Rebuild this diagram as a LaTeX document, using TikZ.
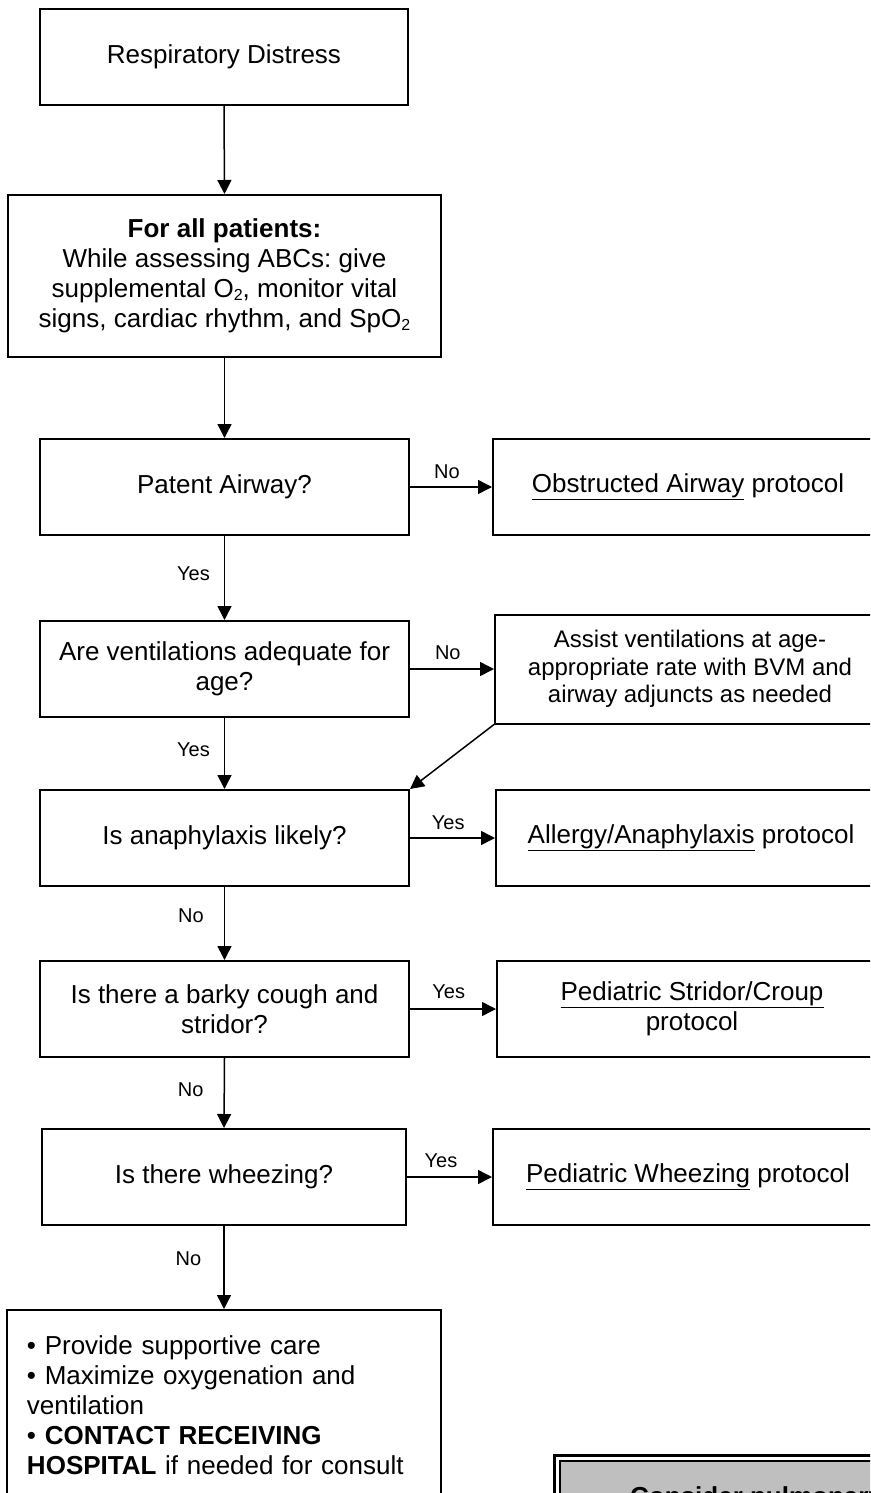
\documentclass[tikz,border=0pt]{standalone}
\usepackage{fontspec}
\setmainfont{Liberation Sans}
\usetikzlibrary{arrows.meta}
\newcommand\lowsub[1]{\raisebox{-2.5pt}{\fontsize{16}{16}\selectfont #1}}
\frenchspacing
\tikzset{
  box/.style={draw=black, line width=2pt, minimum height=96pt, inner sep=0pt, align=center,
    font=\fontsize{26}{30}\selectfont},
  rbox/.style={box, anchor=west, minimum width=390pt},
  conn/.style={line width=1.5pt, -{Triangle[length=14pt,width=14pt]}},
  lbl/.style={font=\fontsize{20}{24}\selectfont, inner sep=0pt},
}
\begin{document}
\begin{tikzpicture}[x=1pt,y=-1pt]
\useasboundingbox (0,0) rectangle (870,1493);
\clip (0,0) rectangle (870,1493);
\fill[white] (0,0) rectangle (870,1493);
% left column
\node[box, minimum width=368pt] (b1) at (224,57) {Respiratory Distress};
\node[box, minimum width=433pt, minimum height=162pt] (b2) at (224.5,276)
  {\textbf{For all patients:}\\While assessing ABCs: give\\supplemental O\lowsub{2}, monitor vital\\signs, cardiac rhythm, and SpO\lowsub{2}};
\node[box, minimum width=369pt] (b3) at (224.5,487) {Patent Airway?};
\node[box, minimum width=369pt] (b4) at (224.5,669) {Are ventilations adequate for\\age?};
\node[box, minimum width=369pt] (b5) at (224.5,838) {Is anaphylaxis likely?};
\node[box, minimum width=369pt] (b6) at (224.5,1009) {Is there a barky cough and\\stridor?};
\node[box, minimum width=364pt] (b7) at (224,1177) {Is there wheezing?};
\node[draw=black, line width=2pt, anchor=north, text width=394pt, align=left,
  inner xsep=20pt, inner ysep=26pt, font=\fontsize{26}{30}\selectfont] (b8) at (224,1309)
  {• Provide supportive care\\• Maximize oxygenation and\\ventilation\\• \textbf{CONTACT RECEIVING}\\\textbf{HOSPITAL} if needed for consult\rule[-20pt]{0pt}{20pt}};
% right column
\node[rbox] (obst) at (492,487) {\underline{Obstructed Airway} protocol};
\node[rbox, minimum height=109pt, font=\fontsize{24}{27.5}\selectfont] (assist) at (494,669)
  {Assist ventilations at age-\\appropriate rate with BVM and\\airway adjuncts as needed};
\node[rbox] (allergy) at (495,838) {\underline{Allergy/Anaphylaxis} protocol};
\node[rbox] (stridor) at (496,1009) {\underline{Pediatric Stridor/Croup}\\protocol};
\node[rbox] (wheeze) at (492,1177) {\underline{Pediatric Wheezing} protocol};
% gray box
\node[draw=black, line width=3pt, anchor=north west, minimum width=340pt, minimum height=80pt, inner sep=0pt] (gout) at (553,1454) {};
\node[draw=black, fill=black!25, line width=1.5pt, anchor=north west, minimum width=330pt, minimum height=70pt, inner sep=0pt] (gin) at (559,1460) {};
\node[anchor=base west, inner sep=0pt, font=\fontsize{26}{30}\selectfont\bfseries] (gtxt) at (630,1505) {Consider pulmonary};
% connectors
\draw[conn] (b1.south) -- (b2.north);
\draw[conn] (b2.south) -- (b3.north);
\draw[conn] (b3.east) -- (obst.west) node[lbl, pos=0.45, above=8pt] {No};
\draw[conn] (b3.south) -- (b4.north) node[lbl, pos=0.45, left=14pt] {Yes};
\draw[conn] (b4.east) -- (assist.west) node[lbl, pos=0.45, above=9pt] {No};
\draw[conn] (assist.south west) -- (b5.north east);
\draw[conn] (b4.south) -- (b5.north) node[lbl, pos=0.45, left=14pt] {Yes};
\draw[conn] (b5.east) -- (allergy.west) node[lbl, pos=0.45, above=8pt] {Yes};
\draw[conn] (b5.south) -- (b6.north) node[lbl, pos=0.4, left=20pt] {No};
\draw[conn] (b6.east) -- (stridor.west) node[lbl, pos=0.45, above=10pt] {Yes};
\draw[conn] (b6.south) -- (b7.north) node[lbl, pos=0.45, left=20pt] {No};
\draw[conn] (b7.east) -- (wheeze.west) node[lbl, pos=0.4, above=9pt] {Yes};
\draw[conn] (b7.south) -- (b8.north) node[lbl, pos=0.4, left=22pt] {No};
\end{tikzpicture}
\end{document}
